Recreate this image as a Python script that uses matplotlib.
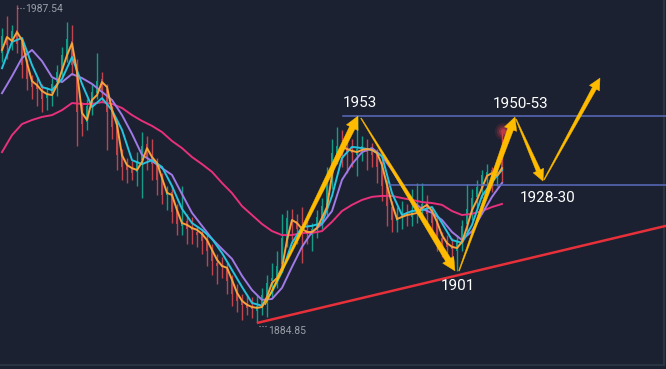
import numpy as np
import matplotlib
matplotlib.use("Agg")
import matplotlib.pyplot as plt
from matplotlib.patches import Polygon

# candles (one every index step)
opens = [1972.0, 1977.0, 1975.0, 1979.5, 1975.5, 1968.5, 1963.0, 1961.5, 1960.0, 1957.5,
         1959.0, 1962.5, 1966.5, 1971.0, 1976.0, 1968.5, 1953.5, 1949.5, 1954.5, 1959.0,
         1963.5, 1960.5, 1953.5, 1948.5, 1939.5, 1935.5, 1934.5, 1933.5, 1937.5, 1942.5,
         1938.5, 1936.5, 1931.5, 1926.0, 1927.0, 1921.0, 1916.0, 1917.5, 1915.5, 1914.0,
         1913.5, 1911.5, 1908.5, 1904.0, 1903.5, 1902.0, 1898.5, 1894.5, 1892.0, 1891.0,
         1890.0, 1888.5, 1890.5, 1893.0, 1898.0, 1899.5, 1903.5, 1911.5, 1918.0, 1917.5,
         1915.5, 1914.5, 1913.0, 1915.5, 1918.5, 1922.0, 1931.5, 1939.0, 1942.5, 1941.5,
         1940.5, 1939.0, 1941.5, 1941.0, 1940.5, 1939.5, 1935.5, 1929.5, 1922.0, 1917.5,
         1919.5, 1920.5, 1919.0, 1921.0, 1922.0, 1923.5, 1920.5, 1917.5, 1912.0, 1910.5,
         1909.5, 1908.0, 1911.5, 1916.5, 1921.0, 1925.5, 1928.0, 1932.0, 1934.0, 1932.0,
         1937.0]
closes = [1977.5, 1974.5, 1979.0, 1975.0, 1968.0, 1963.5, 1961.0, 1960.5, 1957.0, 1959.0,
          1962.0, 1966.0, 1971.5, 1976.5, 1968.0, 1953.0, 1949.0, 1955.0, 1959.5, 1963.0,
          1960.0, 1953.0, 1948.0, 1939.0, 1935.0, 1934.0, 1933.0, 1937.0, 1942.0, 1938.0,
          1936.0, 1931.0, 1926.0, 1926.5, 1920.5, 1916.5, 1917.0, 1915.0, 1914.5, 1913.0,
          1911.0, 1908.0, 1904.5, 1903.0, 1902.5, 1898.0, 1894.0, 1891.5, 1890.5, 1889.5,
          1889.0, 1890.0, 1893.5, 1897.5, 1899.0, 1903.0, 1912.0, 1918.5, 1917.0, 1915.0,
          1914.0, 1913.5, 1915.0, 1919.0, 1922.5, 1932.0, 1939.5, 1942.0, 1941.0, 1940.0,
          1939.5, 1941.0, 1942.0, 1940.0, 1939.0, 1935.0, 1929.0, 1922.5, 1918.0, 1919.0,
          1920.0, 1919.5, 1920.5, 1922.0, 1923.0, 1920.0, 1917.0, 1912.5, 1910.0, 1909.0,
          1908.5, 1911.0, 1916.0, 1921.5, 1925.0, 1928.5, 1932.5, 1933.5, 1931.5, 1934.0,
          1933.5]
highs = [1980.0, 1984.0, 1981.0, 1987.54, 1977.0, 1970.0, 1965.0, 1964.0, 1962.0, 1961.0,
         1964.0, 1968.0, 1974.0, 1982.0, 1981.0, 1970.0, 1956.0, 1957.0, 1962.0, 1972.0,
         1966.0, 1962.0, 1955.0, 1950.0, 1941.0, 1938.0, 1937.0, 1940.0, 1946.5, 1945.0,
         1944.0, 1938.0, 1933.0, 1929.0, 1929.0, 1923.0, 1929.0, 1920.0, 1919.0, 1916.0,
         1915.0, 1913.0, 1910.0, 1907.0, 1906.0, 1904.0, 1900.0, 1897.0, 1894.0, 1894.0,
         1893.0, 1893.5, 1896.0, 1900.0, 1904.0, 1908.0, 1920.0, 1921.0, 1921.5, 1920.0,
         1922.0, 1918.0, 1917.0, 1921.0, 1925.0, 1935.0, 1944.0, 1948.0, 1947.0, 1944.0,
         1944.0, 1951.5, 1945.0, 1944.0, 1943.0, 1941.0, 1937.0, 1931.0, 1924.0, 1922.0,
         1924.0, 1923.0, 1928.0, 1930.0, 1930.0, 1926.0, 1922.0, 1919.0, 1914.0, 1913.0,
         1912.0, 1913.0, 1918.0, 1929.5, 1928.0, 1931.0, 1934.0, 1936.0, 1935.0, 1936.0,
         1946.0]
lows = [1969.0, 1970.0, 1973.0, 1972.0, 1964.0, 1960.0, 1957.0, 1955.0, 1953.0, 1953.5,
        1955.0, 1958.0, 1964.0, 1969.0, 1965.0, 1942.0, 1945.0, 1947.0, 1952.0, 1957.0,
        1956.0, 1940.5, 1944.0, 1934.0, 1931.0, 1930.0, 1931.0, 1929.0, 1925.0, 1934.0,
        1931.0, 1926.0, 1923.0, 1921.0, 1917.0, 1913.0, 1913.0, 1910.0, 1910.0, 1909.0,
        1907.0, 1903.0, 1900.0, 1897.0, 1899.0, 1894.0, 1890.0, 1888.0, 1885.5, 1887.0,
        1886.0, 1884.85, 1887.0, 1886.5, 1893.0, 1896.0, 1901.0, 1909.0, 1911.0, 1910.0,
        1904.0, 1910.0, 1908.0, 1912.0, 1915.0, 1919.0, 1928.0, 1936.0, 1935.0, 1933.0,
        1935.0, 1932.0, 1937.0, 1934.0, 1935.0, 1930.0, 1924.0, 1916.0, 1914.0, 1914.0,
        1915.0, 1916.0, 1916.0, 1917.0, 1918.0, 1916.0, 1913.0, 1908.0, 1906.0, 1905.0,
        1903.0, 1901.5, 1908.0, 1914.0, 1918.0, 1922.0, 1925.0, 1928.0, 1927.0, 1929.0,
        1930.0]

# fast moving average (every candle)
ma_fast = [1973.0, 1977.2, 1975.9, 1978.8, 1976.2, 1968.8, 1962.9, 1961.6, 1959.7, 1958.7,
           1958.4, 1961.6, 1966.5, 1971.3, 1975.2, 1965.8, 1952.6, 1950.3, 1956.8, 1958.4,
           1962.6, 1961.0, 1953.5, 1948.7, 1938.9, 1935.7, 1934.7, 1934.1, 1936.7, 1941.2,
           1938.3, 1936.4, 1931.5, 1926.7, 1926.0, 1921.1, 1916.9, 1916.3, 1915.3, 1914.7,
           1913.4, 1911.4, 1908.2, 1905.0, 1903.0, 1902.4, 1898.5, 1894.3, 1891.7, 1890.4,
           1889.7, 1889.4, 1889.7, 1893.0, 1897.5, 1899.1, 1902.4, 1911.4, 1917.9, 1916.9,
           1915.0, 1914.0, 1914.0, 1915.3, 1918.6, 1922.1, 1932.5, 1938.9, 1941.6, 1940.9,
           1940.3, 1939.9, 1940.6, 1940.9, 1940.6, 1939.6, 1935.7, 1929.2, 1923.1, 1918.2,
           1918.9, 1919.5, 1919.8, 1920.2, 1921.8, 1922.8, 1920.8, 1917.3, 1913.0, 1910.4,
           1909.2, 1908.8, 1910.8, 1915.6, 1921.1, 1924.4, 1928.3, 1932.2, 1933.1, 1932.2,
           1934.7]

# slower averages (every second candle)
ma_mid = [1967.1, 1975.6, 1976.9, 1968.1, 1961.0, 1960.0, 1963.6, 1970.7, 1962.0, 1954.5,
          1957.4, 1953.5, 1947.1, 1937.3, 1936.0, 1937.3, 1935.1, 1928.9, 1921.5, 1916.9,
          1914.7, 1911.8, 1907.2, 1901.7, 1896.2, 1891.0, 1890.1, 1894.6, 1901.1, 1910.5,
          1915.6, 1916.0, 1916.9, 1925.7, 1938.0, 1941.6, 1941.2, 1940.6, 1938.6, 1926.6,
          1919.5, 1920.8, 1921.1, 1922.1, 1916.9, 1911.4, 1910.5, 1916.3, 1925.7, 1930.2,
          1934.1]
ma_slow = [1959.0, 1964.5, 1970.4, 1973.0, 1969.4, 1964.2, 1962.6, 1965.2, 1963.9, 1962.0,
           1959.4, 1956.8, 1951.9, 1945.8, 1939.0, 1937.0, 1934.7, 1932.5, 1926.3, 1920.2,
           1916.0, 1911.8, 1908.5, 1905.3, 1899.8, 1895.2, 1892.0, 1892.3, 1895.9, 1902.7,
           1909.2, 1914.0, 1916.6, 1920.8, 1930.9, 1936.0, 1939.9, 1941.2, 1938.6, 1934.1,
           1928.9, 1924.1, 1921.5, 1920.2, 1917.9, 1914.0, 1911.4, 1914.3, 1919.9, 1925.4,
           1929.9]
ma_long = [1939.9, 1945.4, 1949.0, 1950.3, 1951.3, 1951.9, 1953.5, 1955.8, 1955.5, 1955.5,
           1956.1, 1955.5, 1954.2, 1951.9, 1950.0, 1948.4, 1946.4, 1943.5, 1941.2, 1938.3,
           1936.0, 1933.5, 1929.9, 1926.6, 1922.4, 1919.5, 1916.6, 1914.3, 1913.0, 1913.0,
           1913.7, 1913.7, 1914.3, 1917.3, 1920.8, 1922.8, 1924.4, 1925.4, 1925.7, 1925.7,
           1925.0, 1924.4, 1923.7, 1923.4, 1922.8, 1920.8, 1919.5, 1919.9, 1920.8, 1922.1,
           1923.1]

# annotations: (candle index, price)
arrows = [((52.6, 1890.4), (71.2, 1951.6), 6.0),
          ((71.8, 1950.9), (90.6, 1901.4), 6.0),
          ((91.4, 1901.4), (102.6, 1951.3), 6.0),
          ((102.8, 1950.6), (108.2, 1930.5), 4.5),
          ((108.4, 1930.9), (119.6, 1963.9), 4.5)]
labels = [("1953", 71.6, 1955.8), ("1950-53", 103.8, 1955.5),
          ("1928-30", 109.2, 1925.0), ("1901", 91.2, 1896.5)]
levels = [(1951.6, 68.2), (1929.2, 77.6)]
trend = ([51.2, 132.8], [1884.6, 1916.0])

bg = "#1b2130"
green = "#139c88"
red = "#c0444e"
gold = "#ffbb00"

fig = plt.figure(figsize=(6.66, 3.69), dpi=100, facecolor=bg)
ax = fig.add_axes([0, 0, 1, 1])
ax.set_facecolor(bg)
ax.set_xlim(-0.4, 132.8)
ax.set_ylim(1869.6, 1989.2)
ax.axis("off")

idx = np.arange(len(closes))
o = np.array(opens)
c = np.array(closes)
col = [green if cc >= oo else red for oo, cc in zip(o, c)]
ax.vlines(idx, lows, highs, colors=col, linewidth=1.0, zorder=2)
ax.bar(idx, np.maximum(np.abs(c - o), 0.4), bottom=np.minimum(o, c), width=0.55,
       color=col, linewidth=0, zorder=2)

idx2 = idx[::2]
ax.plot(idx2, ma_long, color="#e8307c", lw=1.4, zorder=3)
ax.plot(idx2, ma_slow, color="#a07ae6", lw=1.4, zorder=3)
ax.plot(idx2, ma_mid, color="#25c4de", lw=1.4, zorder=3)
ax.plot(idx, ma_fast, color="#f7a23a", lw=1.4, zorder=3)

for price, start in levels:
    ax.plot([start, 132.8], [price, price], color="#5a6cbf", lw=1.1, zorder=4)
ax.plot(trend[0], trend[1], color="#e8303a", lw=1.8, zorder=4)

# glow dot at last price
for s, a in [(160, 0.12), (90, 0.2), (40, 0.35), (12, 0.6)]:
    ax.scatter([100.2], [1946.7], s=s, color="#e64050", alpha=a, linewidths=0, zorder=4)


def taper_arrow(p0, p1, wmax, head_w=12.0, head_l=12.0):
    to_px = ax.transData
    a = to_px.transform(p0)
    b = to_px.transform(p1)
    d = b - a
    u = d / np.hypot(*d)
    n = np.array([-u[1], u[0]])
    base = b - u * head_l
    pts = [a + n * 0.4, base + n * wmax / 2, base + n * head_w / 2, b,
           base - n * head_w / 2, base - n * wmax / 2, a - n * 0.4]
    pts = to_px.inverted().transform(np.array(pts))
    ax.add_patch(Polygon(pts, closed=True, facecolor=gold, edgecolor=gold,
                         linewidth=0.3, zorder=6))


for p0, p1, w in arrows:
    taper_arrow(p0, p1, w, head_w=w + 7, head_l=w + 7)

for txt, x, y in labels:
    ax.text(x, y, txt, color="white", fontsize=11, family="Roboto",
            ha="center", va="center", zorder=7)

ax.plot([3.0, 4.4], [1986.6, 1986.6], color="#9aa0aa", lw=0.8, ls=":", zorder=7)
ax.text(4.6, 1986.3, "1987.54", color="#9aa0aa", fontsize=7.5, family="Roboto",
        ha="left", va="center", zorder=7)
ax.plot([51.4, 53.0], [1883.6, 1883.6], color="#9aa0aa", lw=0.8, ls=":", zorder=7)
ax.text(53.2, 1881.9, "1884.85", color="#9aa0aa", fontsize=7.5, family="Roboto",
        ha="left", va="center", zorder=7)

# chart frame (right and bottom edges)
ax.plot([664 / 666, 664 / 666], [4 / 369, 1], color="#2c3848", lw=1.2,
        transform=ax.transAxes, clip_on=False)
ax.plot([0, 664 / 666], [4 / 369, 4 / 369], color="#2c3848", lw=1.2,
        transform=ax.transAxes, clip_on=False)

fig.savefig("out.png", dpi=100, facecolor=bg)
